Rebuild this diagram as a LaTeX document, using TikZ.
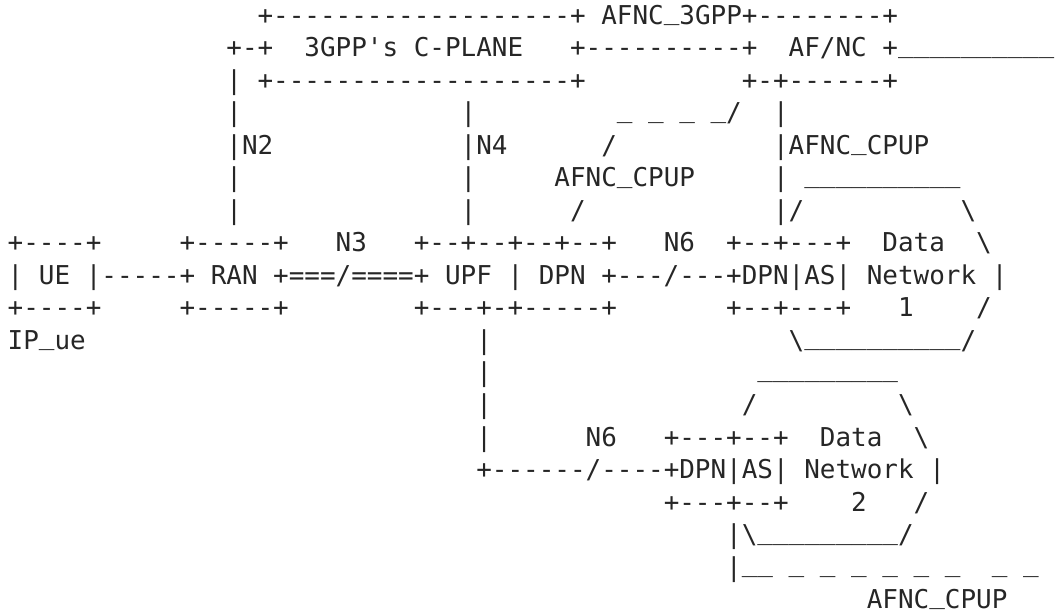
\documentclass[tikz,border=0pt]{standalone}
\usepackage{fontspec}
\setmonofont{DejaVu Sans Mono}[Ligatures=TeXOff]
\definecolor{ink}{HTML}{262626}
% underscore sitting on the baseline, as in the drawing
\newcommand\usc{\raisebox{.18em}{\_}}
\tikzset{
  ascii/.style={anchor=base west,inner sep=0pt,outer sep=0pt,text=ink,
    font=\ttfamily\fontsize{19.46pt}{24.34pt}\selectfont}
}

\begin{document}
\begin{tikzpicture}[x=11.715pt, y=-24.3375pt]
\useasboundingbox (-5.78pt,18.375pt) rectangle (786.22pt,-442.875pt);
% control plane and AF/NC
\node[ascii] (cptop) at (16,0) {+-------------------+ AFNC\usc3GPP+--------+};
\node[ascii] (cpleft) at (14,1) {+-+};
\node[ascii] (cplabel) at (19,1) {3GPP's C-PLANE};
\node[ascii] (cplink) at (36,1) {+----------+};
\node[ascii] (afnc) at (50,1) {AF/NC +\usc\usc\usc\usc\usc\usc\usc\usc\usc\usc};
\node[ascii] (cpbottom) at (14,2) {| +-------------------+};
\node[ascii] (afncbottom) at (47,2) {+-+------+};
% N2, N4 and AFNC_CPUP links
\node[ascii] (n2a) at (14,3) {|};
\node[ascii] (n4a) at (29,3) {|};
\node[ascii] (cpupa) at (39,3) {\usc\ \usc\ \usc\ \usc/};
\node[ascii] (afa) at (49,3) {|};
\node[ascii] (n2) at (14,4) {|N2};
\node[ascii] (n4) at (29,4) {|N4};
\node[ascii] (cpupb) at (38,4) {/};
\node[ascii] (afcpup) at (49,4) {|AFNC\usc CPUP};
\node[ascii] (n2b) at (14,5) {|};
\node[ascii] (n4b) at (29,5) {|};
\node[ascii] (cpup) at (35,5) {AFNC\usc CPUP};
\node[ascii] (dn1top) at (49,5) {| \usc\usc\usc\usc\usc\usc\usc\usc\usc\usc};
\node[ascii] (n2c) at (14,6) {|};
\node[ascii] (n4c) at (29,6) {|};
\node[ascii] (cpupc) at (36,6) {/};
\node[ascii] (dn1ul) at (49,6) {|/};
\node[ascii] (dn1ur) at (61,6) {\textbackslash};
% user plane
\node[ascii] (uetop) at (0,7) {+----+};
\node[ascii] (rantop) at (11,7) {+-----+};
\node[ascii] (n3) at (21,7) {N3};
\node[ascii] (upftop) at (26,7) {+--+--+--+--+};
\node[ascii] (n6a) at (42,7) {N6};
\node[ascii] (dpnatop) at (46,7) {+--+---+};
\node[ascii] (dn1a) at (56,7) {Data};
\node[ascii] (dn1r) at (62,7) {\textbackslash};
\node[ascii] (main) at (0,8) {| UE |-----+ RAN +===/====+ UPF | DPN +---/---+DPN|AS| Network |};
\node[ascii] (uebot) at (0,9) {+----+};
\node[ascii] (ranbot) at (11,9) {+-----+};
\node[ascii] (upfbot) at (26,9) {+---+-+-----+};
\node[ascii] (dpnabot) at (46,9) {+--+---+};
\node[ascii] (dn1b) at (57,9) {1};
\node[ascii] (dn1rb) at (62,9) {/};
\node[ascii] (ipue) at (0,10) {IP\usc ue};
\node[ascii] (n6b) at (30,10) {|};
\node[ascii] (dn1bot) at (50,10) {\textbackslash\usc\usc\usc\usc\usc\usc\usc\usc\usc\usc/};
% second data network
\node[ascii] (n6c) at (30,11) {|};
\node[ascii] (dn2top) at (48,11) {\usc\usc\usc\usc\usc\usc\usc\usc\usc};
\node[ascii] (n6d) at (30,12) {|};
\node[ascii] (dn2ul) at (47,12) {/};
\node[ascii] (dn2ur) at (57,12) {\textbackslash};
\node[ascii] (n6e) at (30,13) {|};
\node[ascii] (n6lab) at (37,13) {N6};
\node[ascii] (dpnbtop) at (42,13) {+---+--+};
\node[ascii] (dn2a) at (52,13) {Data};
\node[ascii] (dn2r) at (58,13) {\textbackslash};
\node[ascii] (n6link) at (30,14) {+------/----+DPN|AS| Network |};
\node[ascii] (dpnbbot) at (42,15) {+---+--+};
\node[ascii] (dn2b) at (54,15) {2};
\node[ascii] (dn2rb) at (58,15) {/};
\node[ascii] (dn2bot) at (46,16) {|\textbackslash\usc\usc\usc\usc\usc\usc\usc\usc\usc/};
\node[ascii] (cpupd) at (46,17) {|\usc\usc\ \usc\ \usc\ \usc\ \usc\ \usc\ \usc};
\node[ascii] (cpupe) at (63,17) {\usc\ \usc};
\node[ascii] (cpuplab) at (55,18) {AFNC\usc CPUP};
\end{tikzpicture}
\end{document}
